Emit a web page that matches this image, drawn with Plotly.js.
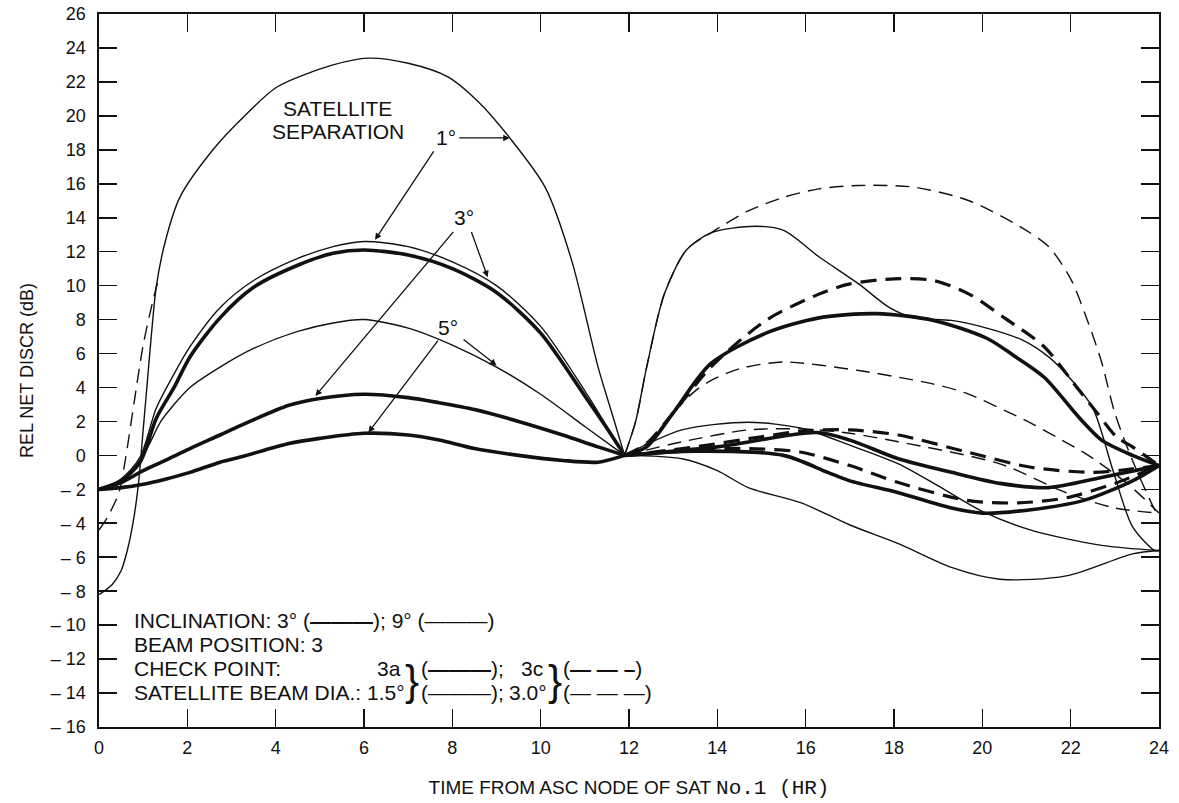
<!DOCTYPE html>
<html>
<head>
<meta charset="utf-8">
<script src="https://cdn.plot.ly/plotly-3.0.1.min.js"></script>
<style>html,body{margin:0;padding:0;background:#fff;}#chart{width:1179px;height:803px;}</style>
</head>
<body>
<div id="chart"></div>
<script>
// ---- tick labels ----
const xTickVals = [0,2,4,6,8,10,12,14,16,18,20,22,24];
const xTickText = ['0','2','4','6','8','10','12','14','16','18','20','22','24'];
const yTickVals = [-16,-14,-12,-10,-8,-6,-4,-2,0,2,4,6,8,10,12,14,16,18,20,22,24,26];
const yTickText = ['\u2013 16','\u2013 14','\u2013 12','\u2013 10','\u2013 8','\u2013 6','\u2013 4','\u2013 2','0','2','4','6','8','10','12','14','16','18','20','22','24','26'];

// ---- first half orbit (0-12 h) ----
const aX = [0,0.3,0.5,0.65,0.8,0.9,1.0,1.1,1.2,1.3,1.5,1.83,2.58,3.3,4.03,5.3,6.1,7.0,7.9,8.6,9.3,10.1,10.7,11.3,11.6,11.9];
const aY = [-8.2,-7.6,-6.8,-5.5,-3.5,-1.5,1.5,4.5,7.5,10.0,12.6,15.2,18.0,20.0,21.7,23.0,23.4,23.1,22.3,20.8,18.7,15.8,11.5,5.2,2.6,0];
const a2X = [0,0.2,0.45,0.6,0.8,1.0,1.22,1.35];
const a2Y = [-4.4,-3.6,-2.2,-0.2,3.2,6.5,9.1,10.4];
const bcX = [0,0.5,0.93,1.3,1.7,2.06,2.74,3.5,4.5,5.3,6,7,8,9,10,11,11.5,11.9];
const bY = [-2,-1.4,-0.1,2.8,4.8,6.4,8.7,10.3,11.6,12.3,12.6,12.3,11.4,10.0,7.6,3.8,1.7,0];
const cY = [-2,-1.5,-0.4,2.2,4.0,5.8,8.1,9.9,11.2,11.9,12.1,11.8,11.0,9.6,7.2,3.5,1.6,0];
const dX = [0,0.5,1.0,1.4,1.7,2.06,2.74,3.5,4.5,5.3,6,7,8,9,10,11,11.9];
const dY = [-2,-1.5,0,2.0,3.0,4.0,5.2,6.3,7.3,7.8,8.0,7.5,6.5,5.2,3.6,1.7,0];
const efX = [0,0.5,1,1.5,2.06,2.74,3.2,4.3,5,6,7,7.7,8.5,9.5,10.5,11.3,11.9];
const eY = [-2,-1.6,-0.9,-0.3,0.4,1.2,1.75,2.95,3.35,3.6,3.4,3.1,2.7,2.0,1.2,0.5,0];
const fY = [-2,-1.9,-1.7,-1.4,-1.0,-0.4,-0.1,0.7,1.0,1.3,1.2,0.9,0.4,0.0,-0.3,-0.4,0];

// ---- second half orbit (12-24 h) ----
const gX = [11.9,12.15,12.4,12.8,13.3,13.85,14.7,15.5,16.3,17.2,18.45,19.7,20.9,21.5,22.0,22.4,22.7,23.0,23.4,23.95,24];
const gY = [0,2,5.2,9.5,12.1,13.1,14.4,15.2,15.7,15.9,15.8,15.0,13.4,12.3,10.4,7.8,5.5,2.5,-0.3,-3.4,-3.5];
const hX = [11.9,12.15,12.4,12.8,13.3,13.85,14.85,15.5,16.3,17.2,17.9,18.45,19.3,20.1,20.9,21.5,22.0,22.5,22.96,23.4,23.9,24];
const hY = [0,2,5.2,9.5,12.1,13.1,13.5,13.25,11.7,10.1,8.7,8.1,7.95,7.5,6.8,5.8,4.5,2.8,-0.9,-4.2,-5.6,-5.6];
const iX = [11.9,12.4,13,13.85,15.1,16.3,17,18,18.9,19.7,20.5,21.4,22.2,22.6,23.05,23.4,24];
const iY = [0,0.7,2.5,5.2,7.95,9.5,10.1,10.4,10.3,9.5,8.1,6.4,3.8,2.5,1.06,0.5,-0.6];
const jX = [11.9,12.4,13,13.85,15.1,16.3,17.6,18.9,20.1,20.7,21.4,22.2,22.7,23.4,24];
const jY = [0,0.5,2.5,5.4,7.2,8.1,8.35,7.95,6.9,5.9,4.6,2.2,0.9,0,-0.6];
const kX = [11.9,12.4,13,13.5,13.85,14.5,15.5,17.2,18.1,18.9,19.65,20.5,21.1,21.8,22.4,23.3,24];
const kY = [0,0.7,2.5,3.8,4.4,5.1,5.5,5.0,4.6,4.2,3.65,2.65,1.9,0.9,0.0,-1.7,-3.4];
const lX = [11.9,13.2,14,14.7,15.9,17,18.1,19.3,20.4,21.9,23.4,24];
const lY = [0,-0.2,-0.9,-1.9,-2.8,-4.1,-5.2,-6.6,-7.3,-7.1,-5.8,-5.6];
const mX = [11.9,13.2,14.7,15.9,17,18.1,19,20,21.1,22.7,24];
const mY = [0,1.5,1.95,1.6,0.6,-0.5,-1.8,-3.3,-4.4,-5.3,-5.6];
const nX = [11.9,13.5,15,16,17,18.1,19.65,21.1,22.5,23.4,24];
const nY = [0,0.5,1.1,1.45,1.5,1.2,0.2,-0.7,-1.0,-0.8,-0.6];
const oX = [11.9,13.2,14.7,16,17,18.1,20.4,21.9,23,24];
const oY = [0,0.8,1.5,1.55,1.3,0.8,-0.5,-2.2,-3.1,-3.4];
const pX = [11.9,14,16.25,17,18.1,19.3,20.4,21.5,22.7,24];
const pY = [0,0.5,1.35,0.9,-0.2,-1.0,-1.65,-1.9,-1.3,-0.6];
const qX = [11.9,13.5,14.7,15.87,17,18.1,19.65,20.8,21.9,23,24];
const qY = [0,0.35,0.4,0.2,-0.6,-1.6,-2.65,-2.8,-2.5,-1.65,-0.6];
const rX = [11.9,13.5,15.5,16.5,17,18.1,19.3,20,21.1,22.3,23.4,24];
const rY = [0,0.25,0.0,-1.0,-1.5,-2.2,-3.1,-3.4,-3.2,-2.65,-1.5,-0.6];

// ---- styles ----
const THIN = {color:'#111', width:1.4, shape:'spline', smoothing:0.8};
const THICK = {color:'#111', width:3.6, shape:'spline', smoothing:0.8};
const THIN_DASH = {color:'#111', width:1.4, dash:'14px,8px', shape:'spline', smoothing:0.8};
const THICK_DASH = {color:'#111', width:3.2, dash:'16px,9px', shape:'spline', smoothing:0.8};

function tr(x, y, line, name){ return {x:x, y:y, mode:'lines', line:line, name:name, hoverinfo:'x+y+name'}; }

const data = [
  tr(aX,aY,THIN,'1° sep (a)'),
  tr(a2X,a2Y,THIN_DASH,'1° sep (b)'),
  tr(bcX,bY,THIN,'3° sep 9°'),
  tr(bcX,cY,THICK,'3° sep 3°'),
  tr(dX,dY,THIN,'5° sep 9°'),
  tr(efX,eY,THICK,'3° sep'),
  tr(efX,fY,THICK,'5° sep'),
  tr(gX,gY,THIN_DASH,'g'),
  tr(hX,hY,THIN,'h'),
  tr(iX,iY,THICK_DASH,'i'),
  tr(jX,jY,THICK,'j'),
  tr(kX,kY,THIN_DASH,'k'),
  tr(lX,lY,THIN,'l'),
  tr(mX,mY,THIN,'m'),
  tr(nX,nY,THICK_DASH,'n'),
  tr(oX,oY,THIN_DASH,'o'),
  tr(pX,pY,THICK,'p'),
  tr(qX,qY,THICK_DASH,'q'),
  tr(rX,rY,THICK,'r')
];

const FONT = 'Liberation Sans, Arial, Helvetica, sans-serif';
const MONO = 'Liberation Mono, Courier New, monospace';
const TXT = 21;

function label(x, y, text, anchor, size){
  return {x:x, y:y, xref:'x', yref:'y', text:text, showarrow:false,
          xanchor:anchor||'center', yanchor:'middle', font:{family:FONT, size:size||TXT, color:'#111'}};
}
function arrow(tx, ty, hx, hy){
  return {x:hx, y:hy, ax:tx, ay:ty, xref:'x', yref:'y', axref:'x', ayref:'y',
          text:'', showarrow:true, arrowhead:2, arrowsize:1, arrowwidth:1.3, arrowcolor:'#111'};
}
// pixel->data helpers for annotation placement
const px2x = p => (p-99)/44.1667;
const py2y = p => (455-p)/16.976;

const annotations = [
  label(5.41, 20.45, 'SATELLITE'),
  label(5.41, 19.05, 'SEPARATION'),
  label(7.85, 18.7, '1°'),
  arrow(8.12, 18.7, 9.3, 18.7),
  arrow(7.6, 18.0, 6.25, 12.7),
  label(8.27, 14.0, '3°'),
  arrow(8.05, 13.25, 4.9, 3.5),
  arrow(8.42, 13.25, 8.8, 10.5),
  label(7.9, 7.55, '5°'),
  arrow(7.7, 6.85, 6.1, 1.35),
  arrow(8.22, 6.9, 9.0, 5.3),
  // legend block
  label(px2x(132), py2y(620), 'INCLINATION: 3° (<b>———</b>); 9° (———)', 'left'),
  label(px2x(132), py2y(644), 'BEAM POSITION: 3', 'left'),
  label(px2x(132), py2y(668), 'CHECK POINT:', 'left'),
  label(px2x(403), py2y(668), '3a', 'right'),
  label(px2x(132), py2y(692), 'SATELLITE BEAM DIA.: 1.5°', 'left'),
  label(px2x(412), py2y(680), '}', 'center', 42),
  label(px2x(419), py2y(668), '(<b>———</b>);', 'left'),
  label(px2x(545), py2y(668), '3c', 'right'),
  label(px2x(419), py2y(692), '(———);', 'left'),
  label(px2x(549), py2y(692), '3.0°', 'right'),
  label(px2x(555), py2y(680), '}', 'center', 42),
  label(px2x(561), py2y(668), '(<b>— — –</b>)', 'left'),
  label(px2x(561), py2y(692), '(— — —)', 'left')
];

const axisCommon = {
  showgrid:false, zeroline:false, showline:true, linecolor:'#111', linewidth:1.6,
  mirror:'ticks', ticks:'inside', ticklen:18, tickwidth:1.6, tickcolor:'#111',
  tickfont:{family:FONT, size:18, color:'#111'}, tickmode:'array'
};

const layout = {
  width:1179, height:803,
  margin:{l:99, r:20, t:14, b:76, pad:0},
  paper_bgcolor:'#fff', plot_bgcolor:'#fff',
  showlegend:false,
  font:{family:FONT, size:18, color:'#111'},
  xaxis:Object.assign({}, axisCommon, {
    range:[0,24], tickvals:xTickVals, ticktext:xTickText, ticklabelstandoff:4,
    title:{text:'TIME FROM ASC NODE OF SAT <span style="font-family:' + MONO + ';font-size:21px">No.1 (HR)</span>', font:{family:FONT, size:19, color:'#111'}, standoff:23}
  }),
  yaxis:Object.assign({}, axisCommon, {
    range:[-16,26], tickvals:yTickVals, ticktext:yTickText, ticklabelstandoff:8,
    title:{text:'REL NET DISCR (dB)', font:{family:FONT, size:18, color:'#111'}, standoff:12}
  }),
  annotations:annotations
};

Plotly.newPlot('chart', data, layout, {staticPlot:true, displayModeBar:false});
</script>
</body>
</html>
